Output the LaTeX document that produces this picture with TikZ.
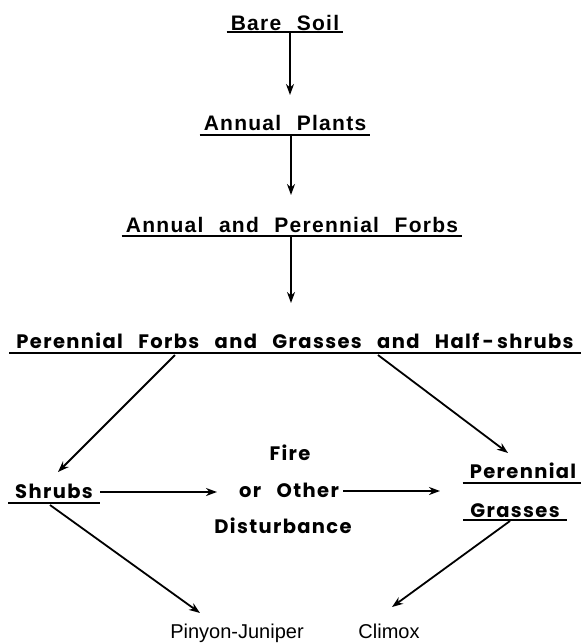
\documentclass[tikz,border=0pt]{standalone}
\usepackage{fontspec}
\usetikzlibrary{arrows.meta}
\newfontfamily\topfont[LetterSpace=6, WordSpace=2.2]{Liberation Sans}
\newfontfamily\leroy[LetterSpace=7, WordSpace=2.8]{Poppins}
\newfontfamily\capfont{Liberation Sans}

\begin{document}
\begin{tikzpicture}[x=1pt, y=-1pt,
  toplbl/.style={font={\topfont\bfseries\fontsize{21}{24}\selectfont}, inner xsep=4pt, inner ysep=0pt, anchor=base},
  lrylbl/.style={font={\leroy\bfseries\fontsize{19.5}{22}\selectfont}, inner xsep=7pt, inner ysep=0pt, anchor=base},
  endlbl/.style={font={\capfont\fontsize{20}{22}\selectfont}, inner sep=0pt, anchor=base},
  arr/.style={-{Stealth[length=11pt, width=8pt, inset=3.5pt]}, line width=1.8pt},
  uline/.style={line width=2.6pt}]
  \useasboundingbox (0,0) rectangle (581,643);

  % Nodos
  \node[toplbl] (bare) at (285,30) {Bare Soil};
  \node[toplbl] (annual) at (285,130) {Annual Plants};
  \node[toplbl] (forbs) at (292,232) {Annual and Perennial Forbs};
  \node[lrylbl] (mixed) at (295,348) {Perennial Forbs and Grasses and Half\,-\,shrubs};
  \node[lrylbl] (shrubs) at (54,498) {Shrubs};
  \node[lrylbl] (fire) at (290,460) {Fire};
  \node[lrylbl] (other) at (289,497) {or Other};
  \node[lrylbl] (dist) at (283,533) {Disturbance};
  \node[lrylbl] (pgr) at (523,478) {Perennial};
  \node[lrylbl] (grs) at (515,517) {Grasses};
  \node[endlbl] (pj) at (237,638) {Pinyon-Juniper};
  \node[endlbl] (climax) at (389,638) {Climox};

  % Subrayados
  \draw[uline] ([yshift=-2pt]bare.base west) -- ([yshift=-2pt]bare.base east);
  \draw[uline] ([yshift=-5pt]annual.base west) -- ([yshift=-5pt]annual.base east);
  \draw[uline] ([yshift=-4pt]forbs.base west) -- ([yshift=-4pt]forbs.base east);
  \draw[uline] ([yshift=-5pt]mixed.base west) -- ([yshift=-5pt]mixed.base east);
  \draw[uline] ([yshift=-5pt]shrubs.base west) -- ([yshift=-5pt]shrubs.base east);
  \draw[uline] ([yshift=-5pt]pgr.base west) -- ([yshift=-5pt]pgr.base east);
  \draw[uline] ([yshift=-3pt]grs.base west) -- ([yshift=-3pt]grs.base east);

  % Flechas
  \draw[arr] ([xshift=5pt,yshift=-3pt]bare.base) -- ([xshift=5pt,yshift=35pt]annual.base);
  \draw[arr] ([xshift=6pt,yshift=-6pt]annual.base) -- ([xshift=-1pt,yshift=37pt]forbs.base);
  \draw[arr] ([xshift=-1pt,yshift=-5pt]forbs.base) -- ([xshift=-4pt,yshift=45pt]mixed.base);
  \draw[arr] ([xshift=-120pt,yshift=-7pt]mixed.base) -- ([xshift=4pt,yshift=26pt]shrubs.base);
  \draw[arr] ([xshift=83pt,yshift=-7pt]mixed.base) -- ([xshift=-15pt,yshift=25pt]pgr.base);
  \draw[arr] ([xshift=46pt,yshift=6pt]shrubs.base) -- ([xshift=-72pt,yshift=5pt]other.base);
  \draw[arr] ([xshift=54pt,yshift=6pt]other.base) -- ([xshift=-83pt,yshift=-13pt]pgr.base);
  \draw[arr] ([xshift=-4pt,yshift=-7pt]shrubs.base) -- ([xshift=-37pt,yshift=25pt]pj.base);
  \draw[arr] ([xshift=-5pt,yshift=-4pt]grs.base) -- ([xshift=3pt,yshift=31pt]climax.base);
\end{tikzpicture}
\end{document}
